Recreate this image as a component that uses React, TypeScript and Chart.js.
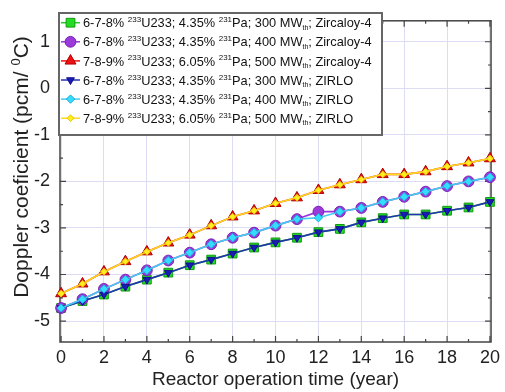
import React, { useEffect, useRef } from 'react';
import { Chart, registerables } from 'chart.js';
import { drawPoint } from 'chart.js/helpers';

Chart.register(...registerables);

const years = [0, 1, 2, 3, 4, 5, 6, 7, 8, 9, 10, 11, 12, 13, 14, 15, 16, 17, 18, 19, 20];
const xTickValues = [0, 2, 4, 6, 8, 10, 12, 14, 16, 18, 20];
const yTickValues = [-5, -4, -3, -2, -1, 0, 1];

const s300Zr = [-4.72, -4.57, -4.43, -4.26, -4.11, -3.96, -3.8, -3.68, -3.55, -3.42, -3.31, -3.21, -3.09, -3.02, -2.88, -2.79, -2.71, -2.71, -2.63, -2.56, -2.44];
const s400Zr = [-4.72, -4.53, -4.31, -4.11, -3.91, -3.7, -3.53, -3.35, -3.21, -3.1, -2.95, -2.81, -2.65, -2.65, -2.57, -2.44, -2.33, -2.22, -2.1, -2.0, -1.91];
const s500Zr = [-4.41, -4.2, -3.94, -3.72, -3.51, -3.32, -3.15, -2.95, -2.76, -2.63, -2.47, -2.35, -2.19, -2.07, -1.96, -1.85, -1.85, -1.79, -1.68, -1.6, -1.51];
const s300Zirlo = [-4.72, -4.57, -4.43, -4.26, -4.11, -3.96, -3.8, -3.68, -3.55, -3.42, -3.31, -3.21, -3.09, -3.02, -2.88, -2.79, -2.71, -2.71, -2.63, -2.56, -2.44];
const s400Zirlo = [-4.72, -4.53, -4.31, -4.11, -3.91, -3.7, -3.53, -3.35, -3.21, -3.1, -2.95, -2.81, -2.78, -2.65, -2.57, -2.44, -2.33, -2.22, -2.1, -2.0, -1.91];
const s500Zirlo = [-4.41, -4.2, -3.94, -3.72, -3.51, -3.32, -3.15, -2.95, -2.76, -2.63, -2.47, -2.35, -2.19, -2.07, -1.96, -1.85, -1.85, -1.79, -1.68, -1.6, -1.51];

const enrichments = ['6-7-8%', '6-7-8%', '7-8-9%', '6-7-8%', '6-7-8%', '7-8-9%'];
const paFractions = ['4.35%', '4.35%', '6.05%', '4.35%', '4.35%', '6.05%'];
const powers = ['300', '400', '500', '300', '400', '500'];
const claddings = ['Zircaloy-4', 'Zircaloy-4', 'Zircaloy-4', 'ZIRLO', 'ZIRLO', 'ZIRLO'];

const seriesValues = [s300Zr, s400Zr, s500Zr, s300Zirlo, s400Zirlo, s500Zirlo];

const styles = [
  { line: '#22cc22', fill: '#22dd22', border: '#139913', shape: 'rect', radius: 6.2, rot: 0 },
  { line: '#9933dd', fill: '#9a3ad8', border: '#7a1fb8', shape: 'circle', radius: 5.4, rot: 0 },
  { line: '#ee1111', fill: '#ee1111', border: '#b00000', shape: 'triangle', radius: 6.3, rot: 0 },
  { line: '#2233b0', fill: '#1a1ab8', border: '#10108a', shape: 'triangle', radius: 4.5, rot: 180 },
  { line: '#44ccee', fill: '#33ddff', border: '#22aadd', shape: 'rectRot', radius: 4.2, rot: 0 },
  { line: '#ffd820', fill: '#ffee22', border: '#e8c400', shape: 'rectRot', radius: 3.4, rot: 0 },
];

const FONT = '"Liberation Sans", Arial, Helvetica, sans-serif';
const yTitleMain = 'Doppler coeficient (pcm/ ';
const yTitleSup = '0';
const yTitleEnd = 'C)';

const framePlugin = {
  id: 'frameTicks',
  beforeDatasetsDraw(chart: any) {
    const { ctx, chartArea } = chart;
    const { left, right, top, bottom } = chartArea;
    const xs = chart.scales.x;
    const ys = chart.scales.y;
    ctx.save();
    ctx.strokeStyle = '#444';
    ctx.lineWidth = 1.5;
    ctx.strokeRect(left, top, right - left, bottom - top);
    ctx.lineWidth = 1.2;
    ctx.beginPath();
    for (let t = Math.ceil(xs.min); t <= Math.floor(xs.max); t++) {
      const px = xs.getPixelForValue(t);
      const len = t % 2 === 0 ? 6 : 3;
      ctx.moveTo(px, bottom);
      ctx.lineTo(px, bottom - len);
      ctx.moveTo(px, top);
      ctx.lineTo(px, top + len);
    }
    for (let k = Math.ceil(ys.min * 2); k <= Math.floor(ys.max * 2); k++) {
      const v = k / 2;
      const py = ys.getPixelForValue(v);
      const len = k % 2 === 0 ? 6 : 3;
      ctx.moveTo(left, py);
      ctx.lineTo(left + len, py);
      ctx.moveTo(right, py);
      ctx.lineTo(right - len, py);
    }
    ctx.stroke();
    ctx.restore();
  },
  afterDraw(chart: any) {
    const ctx = chart.ctx;
    ctx.save();
    ctx.translate(28, 167);
    ctx.rotate(-Math.PI / 2);
    ctx.fillStyle = '#222';
    ctx.textBaseline = 'alphabetic';
    ctx.textAlign = 'left';
    ctx.font = `21px ${FONT}`;
    const w1 = ctx.measureText(yTitleMain).width;
    const w3 = ctx.measureText(yTitleEnd).width;
    ctx.font = `13px ${FONT}`;
    const w2 = ctx.measureText(yTitleSup).width;
    let x = -(w1 + w2 + w3) / 2;
    ctx.font = `21px ${FONT}`;
    ctx.fillText(yTitleMain, x, 0);
    x += w1;
    ctx.font = `13px ${FONT}`;
    ctx.fillText(yTitleSup, x, -8);
    x += w2;
    ctx.font = `21px ${FONT}`;
    ctx.fillText(yTitleEnd, x, 0);
    ctx.restore();
  },
};

const legendPlugin = {
  id: 'customLegend',
  afterDraw(chart: any) {
    const ctx = chart.ctx;
    const x0 = 59, y0 = 13, x1 = 382, y1 = 135;
    ctx.save();
    ctx.fillStyle = '#ffffff';
    ctx.fillRect(x0, y0, x1 - x0, y1 - y0);
    ctx.strokeStyle = '#666';
    ctx.lineWidth = 2;
    ctx.strokeRect(x0, y0, x1 - x0, y1 - y0);
    const rowH = 19.1;
    const firstY = 22.7;
    for (let i = 0; i < 6; i++) {
      const st = styles[i];
      const cy = firstY + i * rowH;
      ctx.strokeStyle = st.line;
      ctx.lineWidth = 1.5;
      ctx.beginPath();
      ctx.moveTo(61, cy);
      ctx.lineTo(80, cy);
      ctx.stroke();
      ctx.fillStyle = st.fill;
      ctx.strokeStyle = st.border;
      ctx.lineWidth = 1;
      drawPoint(ctx, { pointStyle: st.shape, radius: st.radius, rotation: st.rot, borderWidth: 1 }, 70.5, cy);
      const runs: [string, string][] = [
        ['n', enrichments[i] + ' '],
        ['sup', '233'],
        ['n', 'U233; ' + paFractions[i] + ' '],
        ['sup', '231'],
        ['n', 'Pa; ' + powers[i] + ' MW'],
        ['sub', 'th'],
        ['n', '; ' + claddings[i]],
      ];
      let x = 83;
      ctx.fillStyle = '#111';
      ctx.textBaseline = 'alphabetic';
      ctx.textAlign = 'left';
      for (const [kind, txt] of runs) {
        let size = 12.8;
        let dy = 4.6;
        if (kind === 'sup') { size = 8; dy = -0.5; }
        if (kind === 'sub') { size = 7; dy = 7; }
        ctx.font = `${size}px ${FONT}`;
        ctx.fillText(txt, x, cy + dy);
        x += ctx.measureText(txt).width;
      }
    }
    ctx.restore();
  },
};

export default function App() {
  const ref = useRef<HTMLCanvasElement>(null);
  useEffect(() => {
    if (!ref.current) return;
    const datasets = seriesValues.map((vals, i) => {
      const st = styles[i];
      return {
        label: `${enrichments[i]} U233; ${paFractions[i]} Pa; ${powers[i]} MWth; ${claddings[i]}`,
        data: years.map((yr, j) => ({ x: yr, y: vals[j] })),
        borderColor: st.line,
        backgroundColor: st.fill,
        borderWidth: 1.6,
        pointStyle: st.shape,
        pointRadius: st.radius,
        pointRotation: st.rot,
        pointBackgroundColor: st.fill,
        pointBorderColor: st.border,
        pointBorderWidth: 1,
        tension: 0,
        clip: false as any,
        order: 6 - i,
      };
    });
    const chart = new Chart(ref.current, {
      type: 'line',
      data: { datasets },
      options: {
        responsive: false,
        animation: false,
        devicePixelRatio: 1,
        layout: { padding: { left: 0, right: 10, top: 10, bottom: 0 } },
        plugins: { legend: { display: false }, tooltip: { enabled: false } },
        scales: {
          x: {
            type: 'linear',
            min: -0.05,
            max: 20.05,
            afterBuildTicks: (s: any) => { s.ticks = xTickValues.map((v) => ({ value: v })); },
            afterFit: (s: any) => { s.height = 50; },
            grid: { color: '#dcdcf4', lineWidth: 1, drawTicks: false },
            border: { display: false },
            ticks: { color: '#222', font: { family: FONT, size: 18 }, padding: 5, maxRotation: 0 },
            title: { display: true, text: 'Reactor operation time (year)', color: '#222', font: { family: FONT, size: 19 }, padding: { top: 0, bottom: 1 } },
          },
          y: {
            type: 'linear',
            min: -5.45,
            max: 1.45,
            afterBuildTicks: (s: any) => { s.ticks = yTickValues.map((v) => ({ value: v })); },
            afterFit: (s: any) => { s.width = 60; },
            grid: { color: '#dcdcf4', lineWidth: 1, drawTicks: false },
            border: { display: false },
            ticks: { color: '#222', font: { family: FONT, size: 18 }, padding: 10 },
            title: { display: false },
          },
        },
      },
      plugins: [framePlugin, legendPlugin],
    } as any);
    return () => chart.destroy();
  }, []);
  return (
    <div style={{ position: 'absolute', left: 0, top: 0, width: 505, height: 392, background: '#fff' }}>
      <canvas ref={ref} width={505} height={392} style={{ display: 'block' }} />
    </div>
  );
}
